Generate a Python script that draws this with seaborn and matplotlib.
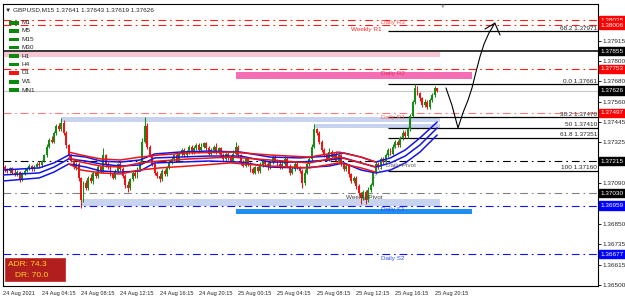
import matplotlib
matplotlib.use("Agg")
import matplotlib.pyplot as plt
import matplotlib.transforms as mtransforms
from matplotlib.patches import Rectangle
import numpy as np
import pandas as pd
import seaborn as sns

# ---- GBPUSD M15 candles, 24 Aug 00:00 -> 25 Aug 20:30
open0 = 1.37190
closes = [
    1.37200, 1.37185, 1.37170, 1.37160, 1.37175, 1.37150, 1.37140, 1.37155, 1.37110, 1.37145, 1.37160, 1.37175, 1.37190, 1.37170, 1.37185, 1.37200, 1.37195, 1.37215,
    1.37250, 1.37300, 1.37340, 1.37330, 1.37380,
    1.37420, 1.37400, 1.37440,
    1.37380, 1.37310, 1.37250,
    1.37220, 1.37180, 1.37200, 1.37120,
    1.36990, 1.37090,
    1.37060, 1.37120, 1.37100, 1.37150, 1.37130, 1.37180, 1.37160,
    1.37250, 1.37200,
    1.37180, 1.37140, 1.37120, 1.37160, 1.37200, 1.37170, 1.37130, 1.37080, 1.37060, 1.37110, 1.37150, 1.37130, 1.37170, 1.37210,
    1.37330, 1.37420,
    1.37300, 1.37250, 1.37200, 1.37150,
    1.37130, 1.37110, 1.37160, 1.37140, 1.37180,
    1.37210, 1.37230, 1.37250, 1.37220, 1.37260, 1.37280, 1.37250, 1.37270, 1.37300, 1.37270, 1.37290, 1.37310, 1.37280, 1.37300, 1.37320, 1.37290, 1.37260, 1.37280,
    1.37300, 1.37270, 1.37290, 1.37250, 1.37230, 1.37260, 1.37240, 1.37220, 1.37260, 1.37300, 1.37250,
    1.37210, 1.37190, 1.37230, 1.37200, 1.37170, 1.37150, 1.37180, 1.37160, 1.37190, 1.37220, 1.37200, 1.37180, 1.37210, 1.37240, 1.37220, 1.37200, 1.37180, 1.37200,
    1.37230, 1.37190, 1.37150, 1.37170, 1.37200, 1.37180, 1.37160, 1.37090, 1.37150, 1.37200, 1.37230,
    1.37300, 1.37400, 1.37380, 1.37330,
    1.37280, 1.37250, 1.37230, 1.37270, 1.37240, 1.37260, 1.37220, 1.37250,
    1.37200, 1.37170, 1.37190, 1.37140, 1.37100, 1.37120, 1.37070,
    1.37030, 1.37000, 1.37040, 1.36990, 1.37050, 1.37080,
    1.37150, 1.37200, 1.37180, 1.37230, 1.37210, 1.37250, 1.37280,
    1.37260, 1.37300, 1.37330, 1.37310, 1.37350, 1.37380, 1.37360, 1.37400,
    1.37480, 1.37560, 1.37640, 1.37610,
    1.37580, 1.37540, 1.37560, 1.37530, 1.37570,
    1.37600, 1.37641, 1.37626,
]
# wick lengths above / below the body, in pips
up_pips = [
    1, 1.5, 1, 0.5, 1, 1, 2, 1, 0.5, 1, 1.5, 1, 1, 0.5, 1, 1, 1.5, 1,
    1, 1.5, 1, 2, 1, 1, 2, 2.5, 1.5, 1, 0.5, 1, 1.5, 1, 1, 0.5, 1, 1.5,
    1, 2, 1, 1, 1.5, 1, 4, 1, 1, 2, 1, 1, 0.5, 1.5, 1, 1, 2, 1,
    1, 1.5, 1, 1, 2, 5, 1.5, 1, 1, 0.5, 1, 1.5, 1, 1, 1, 1.5, 1, 1,
    2, 1, 1, 1.5, 1, 1, 1, 1.5, 1, 1, 2, 1, 1, 1.5, 1, 1, 2, 1,
    1, 1.5, 1, 1, 1, 2, 3, 1, 1, 1.5, 1, 1, 1, 1.5, 1, 1, 2, 1,
    1, 1, 1.5, 1, 1, 1, 1.5, 1, 2, 1, 1, 1, 1.5, 1, 1, 1, 2, 1,
    1, 1.5, 3, 1, 1, 1, 1.5, 1, 2, 1, 1, 1.5, 1, 1, 1, 1.5, 1, 1,
    1, 1, 1.5, 1, 1, 1, 1.5, 1, 1, 1.5, 1, 1, 1, 1.5, 1, 1, 1.5, 1,
    1, 1, 1.5, 1, 1, 1, 1, 2.1, 1, 1, 1, 1.5, 1, 1, 1, 1, 0.2,
]
dn_pips = [
    1, 1, 1.5, 1, 1, 1, 1, 1, 1.5, 1, 1, 0.5, 1, 1, 1, 1, 1, 1,
    0.5, 1, 1, 1, 1, 1, 1, 1, 1, 1.5, 1, 1, 1, 1.5, 2, 4.5, 1, 1,
    1, 1, 1.5, 1, 1, 1, 1, 1.5, 1, 1, 1, 1, 1, 1, 1, 2, 2, 1,
    1, 1, 1, 1, 1, 1, 1.5, 1, 1, 1.5, 1, 1.5, 1, 1, 1, 1, 1, 1,
    1, 1, 1.5, 1, 1, 1, 1, 1, 1, 1.5, 1, 1, 1, 1, 1, 1.5, 1, 1,
    1, 1, 1, 1.5, 1, 1, 1, 1, 1.5, 1, 1, 1, 1.5, 1, 1, 1, 1, 1,
    1, 1.5, 1, 1, 1, 1, 1, 1, 1, 1, 1.5, 1, 1, 1, 1, 3, 1, 1,
    1, 1, 1, 1, 1.5, 1, 1, 1, 1, 1, 1, 1, 1, 1, 1, 1, 1.5, 1,
    1, 1.5, 1, 3, 1, 2, 1, 1, 1, 1, 1, 1, 1, 1, 1, 1, 1, 1,
    1, 1, 1, 1, 1, 1, 1, 1, 1, 1.5, 1, 1, 1, 1, 1, 1, 0.7,
]

# ---- moving-average envelopes (bar index, upper, middle, lower)
blue_bars = [1, 16, 22, 28, 35, 41, 49, 57, 63, 73, 85, 98, 110, 122, 134, 140, 147, 153, 159, 165, 171, 178]
blue_up = [1.37165, 1.37177, 1.37206, 1.37252, 1.37240, 1.37217, 1.37211, 1.37223, 1.37258, 1.37269, 1.37275,
           1.37269, 1.37240, 1.37235, 1.37246, 1.37264, 1.37240, 1.37211, 1.37235, 1.37281, 1.37351, 1.37443]
blue_mid = [1.37136, 1.37148, 1.37182, 1.37229, 1.37217, 1.37200, 1.37188, 1.37194, 1.37235, 1.37240, 1.37246,
            1.37246, 1.37211, 1.37211, 1.37223, 1.37235, 1.37206, 1.37182, 1.37206, 1.37246, 1.37310, 1.37409]
blue_lo = [1.37101, 1.37119, 1.37153, 1.37200, 1.37182, 1.37159, 1.37153, 1.37159, 1.37206, 1.37211, 1.37217,
           1.37211, 1.37182, 1.37177, 1.37188, 1.37206, 1.37165, 1.37148, 1.37165, 1.37206, 1.37269, 1.37368]
red_bars = [28, 33, 41, 49, 57, 65, 77, 94, 110, 126, 138, 147, 153]
red_up = [1.37269, 1.37252, 1.37229, 1.37223, 1.37240, 1.37252, 1.37264, 1.37269, 1.37252, 1.37240, 1.37269, 1.37240, 1.37211]
red_mid = [1.37235, 1.37211, 1.37188, 1.37182, 1.37206, 1.37217, 1.37229, 1.37240, 1.37223, 1.37206, 1.37240, 1.37206, 1.37182]
red_lo = [1.37200, 1.37165, 1.37148, 1.37142, 1.37165, 1.37177, 1.37188, 1.37206, 1.37188, 1.37177, 1.37206, 1.37177, 1.37153]

# ---- horizontal levels (price, colour, style)
levels = [
    (1.38035, "#ff1a1a", "dd"), (1.38006, "#ff1a1a", "dd"), (1.37855, "#000000", "solid"),
    (1.37753, "#ff1a1a", "dd"), (1.37626, "#c8c8c8", "solid"), (1.37497, "#ff7a7a", "dd"),
    (1.37215, "#000000", "dd"), (1.37030, "#808080", "dd"), (1.36959, "#1010ff", "dd"),
    (1.36677, "#1010ff", "dd"),
]
level_names = [
    ("Daily R3", 155, 1.38035, "#ff5a5a"), ("Weekly R1", 143, 1.38006, "#ff2a2a"),
    ("Daily R2", 155, 1.37753, "#e0305a"), ("Daily R1", 155, 1.37497, "#ff6a6a"),
    ("Daily Pivot", 157, 1.37215, "#606060"), ("Weekly Pivot", 141, 1.37030, "#404040"),
    ("Daily S1", 155, 1.36959, "#3050ff"), ("Daily S2", 155, 1.36677, "#3050ff"),
]
price_boxes = [
    (1.38035, "#ff0000"), (1.38006, "#ff0000"), (1.37855, "#000000"), (1.37753, "#ff0000"),
    (1.37626, "#000000"), (1.37497, "#ff0000"), (1.37215, "#000000"), (1.37030, "#000000"),
    (1.36959, "#0000ff"), (1.36677, "#0000ff"),
]
fib_ratios = ["68.2", "0.0", "38.2", "50", "61.8", "100"]
fib_prices = [1.37971, 1.37661, 1.37470, 1.37410, 1.37351, 1.37160]
fib_start = 158

# supply / demand zones (bar from, bar to, low, high, colour)
zones = [
    (0, 179, 1.37820, 1.37849, "#f8c6d2"),
    (96, 192, 1.37693, 1.37733, "#f56db3"),
    (25, 179, 1.37443, 1.37472, "#c7d3ef"),
    (128, 179, 1.37406, 1.37429, "#c7d3ef"),
    (33, 179, 1.36956, 1.36997, "#c7d3ef"),
    (96, 192, 1.36910, 1.36939, "#1e8ff0"),
]

# hand-drawn forecast path
path_bars = [181.6, 184.0, 186.5, 188.5, 190.6, 192.2, 193.8, 195.4, 197.1, 199.1, 201.5]
path_prices = [1.37641, 1.37542, 1.37409, 1.37496, 1.37571, 1.37641, 1.37733, 1.37820, 1.37896, 1.37960, 1.38017]
head_bars = [197.5, 201.5, 203.6]
head_prices = [1.37983, 1.38017, 1.37948]

ytick_vals = [1.37915, 1.37800, 1.37680, 1.37560, 1.37445, 1.37325, 1.37090, 1.36850, 1.36735, 1.36615, 1.36500]
xtick_bars = [1.3, 17, 33, 49, 65, 81, 97, 113, 129, 145, 161, 177]
xtick_labels = ["24 Aug 2021", "24 Aug 04:15", "24 Aug 08:15", "24 Aug 12:15", "24 Aug 16:15", "24 Aug 20:15",
                "25 Aug 00:15", "25 Aug 04:15", "25 Aug 08:15", "25 Aug 12:15", "25 Aug 16:15", "25 Aug 20:15"]

timeframes = ["M1", "M5", "M15", "M30", "H1", "H4", "D1", "W1", "MN1"]
tf_colors = ["#0a8a0a"] * 6 + ["#ff1010"] + ["#0a8a0a"] * 2

# ---------------------------------------------------------------------------
sns.set_theme(style="white")
plt.rcParams["font.family"] = ["Liberation Sans Narrow", "Liberation Sans", "DejaVu Sans"]
FS = 4.6

W, H = 625, 297
fig = plt.figure(figsize=(W / 100, H / 100), dpi=100)
ax = fig.add_axes([3 / W, 11 / H, 595 / W, 282 / H])
ax.set_xlim(1.24, 243.5)
ax.set_ylim(1.36492, 1.38128)


def fx(px):
    return px / W


def fy(py):
    return 1 - py / H


DD = (0, (7, 3.5, 1.5, 3.5))

for lo_x, hi_x, lo, hi, col in zones:
    ax.add_patch(Rectangle((lo_x, lo), hi_x - lo_x, hi - lo, color=col, lw=0, zorder=1))

for price, col, st in levels:
    ax.axhline(price, color=col, lw=0.8 if st == "dd" else (1.1 if col == "#000000" else 0.8),
               ls=DD if st == "dd" else "-", zorder=2)

for name, bx, price, col in level_names:
    off = 0.00013 if name == "Daily R3" else 0.00026
    ax.text(bx, price - off, name, color=col, fontsize=FS, va="center", ha="left", zorder=6)

for r, p in zip(fib_ratios, fib_prices):
    ax.hlines(p, fib_start, 243.5, color="black", lw=0.9, zorder=3)
    ax.text(243.2, p + 0.00003, f"{r} {p:.5f}", fontsize=FS, ha="right", va="bottom", zorder=6)

# candles
closes = np.array(closes)
opens = np.concatenate([[open0], closes[:-1]])
highs = np.maximum(opens, closes) + np.array(up_pips) * 1e-4
lows = np.minimum(opens, closes) - np.array(dn_pips) * 1e-4
bars = np.arange(len(closes))
cols = np.where(closes >= opens, "#128f12", "#f21212")
ax.vlines(bars, lows, highs, colors=cols, lw=0.75, zorder=4)
body = np.maximum(np.abs(closes - opens), 0.00003)
ax.bar(bars, body, bottom=np.minimum(opens, closes), width=0.78, color=cols, lw=0, zorder=4)

# moving averages
ma = []
for name, xs, ys in [("b_up", blue_bars, blue_up), ("b_mid", blue_bars, blue_mid), ("b_lo", blue_bars, blue_lo),
                     ("r_up", red_bars, red_up), ("r_mid", red_bars, red_mid), ("r_lo", red_bars, red_lo)]:
    ma.append(pd.DataFrame({"bar": xs, "price": ys, "line": name}))
ma = pd.concat(ma)
pal = {"b_up": "#1414e6", "b_mid": "#1414e6", "b_lo": "#1414e6",
       "r_up": "#ee1515", "r_mid": "#ee1515", "r_lo": "#ee1515"}
sns.lineplot(data=ma, x="bar", y="price", hue="line", palette=pal, estimator=None, sort=True,
             legend=False, lw=1.1, ax=ax, zorder=5)

# small dotted trend line near the breakout
ax.plot([152, 167], [1.37110, 1.37430], color="#707070", lw=0.6, ls=(0, (1, 1.5)), zorder=5)

# forecast arrow
ax.plot(path_bars, path_prices, color="black", lw=0.8, zorder=7, solid_capstyle="round")
ax.plot(head_bars, head_prices, color="black", lw=0.8, zorder=7)

# axes styling
for sp in ax.spines.values():
    sp.set_color("black")
    sp.set_linewidth(0.8)
ax.yaxis.tick_right()
ax.set_yticks(ytick_vals)
ax.set_yticklabels([f"{v:.5f}" for v in ytick_vals])
ax.set_xticks(xtick_bars)
ax.set_xticklabels(xtick_labels)
for lbl in ax.get_xticklabels():
    lbl.set_ha("left")
ax.tick_params(axis="both", labelsize=FS, length=2, width=0.6, color="black", direction="out", pad=1)
ax.tick_params(axis="x", labelsize=4.1, pad=1.5)
ax.set_xlabel("")
ax.set_ylabel("")

trans = mtransforms.blended_transform_factory(ax.transAxes, ax.transData)
for price, col in price_boxes:
    ax.text(1.004, price, f"{price:.5f}", transform=trans, fontsize=FS, color="white", ha="left", va="center",
            clip_on=False, zorder=10,
            bbox=dict(boxstyle="square,pad=0.25", facecolor=col, edgecolor=col))

# header and timeframe list
fig.text(fx(5), fy(10), "\u25bc GBPUSD,M15 1.37641 1.37643 1.37619 1.37626", fontsize=FS, va="center",
         ha="left", family=["Liberation Sans Narrow", "Liberation Sans", "DejaVu Sans"])
tf_y = [22.7, 31, 39.3, 47.3, 56, 64.3, 72.7, 81.7, 90]
for name, col, yy in zip(timeframes, tf_colors, tf_y):
    fig.patches.append(Rectangle((fx(9), fy(yy + 1.8)), 9.5 / W, 3.6 / H, transform=fig.transFigure,
                                 facecolor=col, edgecolor=col, lw=0))
    fig.text(fx(22), fy(yy), name, fontsize=FS, va="center", ha="left")

fig.text(fx(443), fy(6), "\u25bc", fontsize=3.5, color="#a8a8a8", ha="center", va="center",
         family=["DejaVu Sans"])

# ADR panel
fig.patches.append(Rectangle((fx(5), fy(281)), 60 / W, 23 / H, transform=fig.transFigure,
                             facecolor="#b01e1e", edgecolor="#d03030", lw=0.6))
fig.text(fx(8), fy(264), "ADR: 74.3", fontsize=6, color="#ffd21a", va="center", ha="left")
fig.text(fx(15), fy(275.5), "DR: 70.0", fontsize=6, color="#ffd21a", va="center", ha="left")

fig.savefig("out.png", dpi=100)
